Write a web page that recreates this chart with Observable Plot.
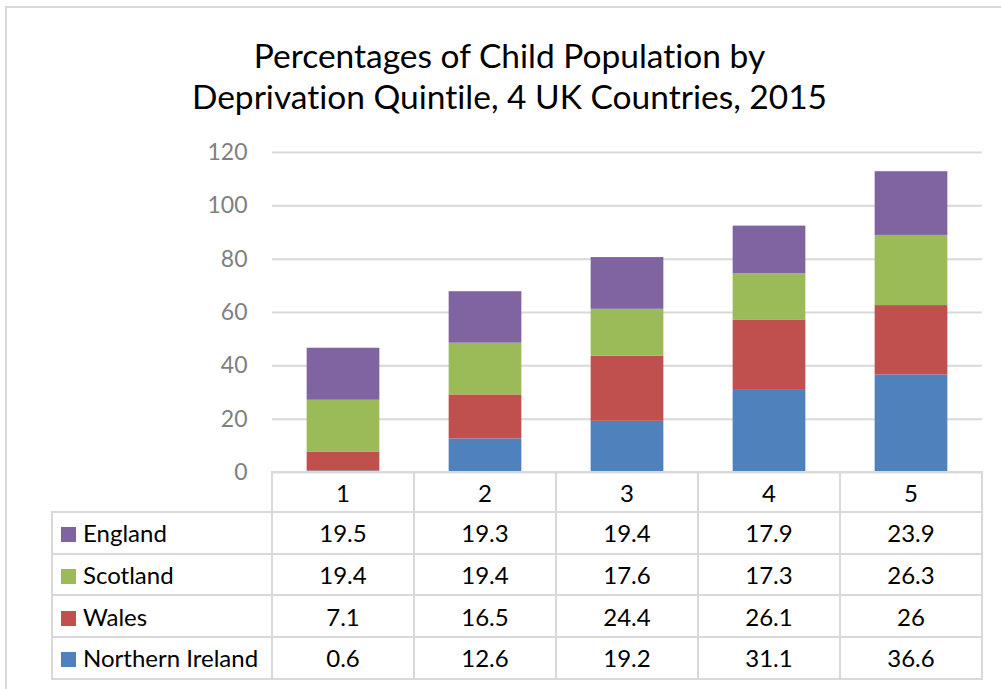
<!DOCTYPE html>
<html>
<head>
<meta charset="utf-8">
<script src="https://cdn.jsdelivr.net/npm/d3@7"></script>
<script src="https://cdn.jsdelivr.net/npm/@observablehq/plot@0.6"></script>
<style>
  html, body { margin: 0; padding: 0; background: #fff; }
  #root { position: relative; width: 1001px; height: 689px; overflow: hidden; background: #fff; font-family: Lato, "Open Sans", sans-serif; font-variant-ligatures: none; }
  .frameTop { position: absolute; left: 6px; top: 6px; right: 0; height: 2px; background: #d9d9d9; }
  .frameLeft { position: absolute; left: 5px; top: 6px; bottom: 0; width: 2px; background: #d9d9d9; }
  .title { position: absolute; left: 0; width: 1019px; text-align: center; font-size: 33.5px; color: #000; white-space: nowrap; line-height: 1; }
  #chart { position: absolute; left: 0; top: 0; }
  #tbl { position: absolute; border-collapse: collapse; table-layout: fixed; font-size: 24px; color: #000; }
  #tbl td { border: 2px solid #d9d9d9; padding: 0; text-align: center; white-space: nowrap; }
  #tbl td.blank { border: none; }
  #tbl td.lab { text-align: left; padding-left: 8px; }
  .sw { display: inline-block; width: 15px; height: 15px; margin-right: 7px; vertical-align: 0px; }
</style>
</head>
<body>
<div id="root">
  <div class="frameTop"></div>
  <div class="frameLeft"></div>
  <div class="title" id="t1" style="top:39px">Percentages of Child Population by</div>
  <div class="title" id="t2" style="top:80px">Deprivation Quintile, 4 UK Countries, 2015</div>
  <div id="chart"></div>
  <table id="tbl"></table>
</div>
<script>
const quintiles = ["1", "2", "3", "4", "5"];
const countries = ["England", "Scotland", "Wales", "Northern Ireland"];
const colors = ["#8064A2", "#9BBB59", "#C0504D", "#4F81BD"];
const england = [19.5, 19.3, 19.4, 17.9, 23.9];
const scotland = [19.4, 19.4, 17.6, 17.3, 26.3];
const wales = [7.1, 16.5, 24.4, 26.1, 26];
const northernIreland = [0.6, 12.6, 19.2, 31.1, 36.6];
const yTicks = [0, 20, 40, 60, 80, 100, 120];

const seriesValues = {
  "England": england,
  "Scotland": scotland,
  "Wales": wales,
  "Northern Ireland": northernIreland
};

// stack order: bottom to top
const stackOrder = ["Northern Ireland", "Wales", "Scotland", "England"];
const data = [];
for (const c of stackOrder) {
  quintiles.forEach((q, i) => data.push({quintile: q, country: c, value: seriesValues[c][i]}));
}

const pIn = 0.488, pOut = pIn / 2;
const chart = Plot.plot({
  width: 1001,
  height: 480,
  marginLeft: 272,
  marginRight: 19,
  marginTop: 152,
  marginBottom: 8,
  style: {fontFamily: "Lato, 'Open Sans', sans-serif", background: "transparent", overflow: "visible"},
  x: {domain: quintiles, paddingInner: pIn, paddingOuter: pOut, round: false, axis: null},
  y: {domain: [0, 120], axis: null},
  color: {domain: countries, range: colors},
  marks: [
    Plot.gridY(yTicks, {stroke: "#d9d9d9", strokeOpacity: 1, strokeWidth: 2}),
    Plot.axisY(yTicks, {tickSize: 0, tickPadding: 25, fontSize: 23, color: "#7f7f7f", textStroke: "none", label: null}),
    Plot.barY(data, {x: "quintile", y: "value", fill: "country", order: stackOrder})
  ]
});
document.getElementById("chart").appendChild(chart);

// data table aligned to the x band scale
const xs = chart.scale("x");
const [r0, r1] = xs.range;
const n = quintiles.length;
const step = (r1 - r0) / (n - pIn + 2 * pOut);
const labelLeft = 52;
const tbl = document.getElementById("tbl");
tbl.style.left = (labelLeft - 1) + "px";
tbl.style.top = (472 - 1) + "px";
const colg = document.createElement("colgroup");
const c0 = document.createElement("col");
c0.style.width = (r0 - labelLeft) + "px";
colg.appendChild(c0);
quintiles.forEach(() => { const c = document.createElement("col"); c.style.width = step + "px"; colg.appendChild(c); });
tbl.appendChild(colg);
tbl.style.width = (r0 - labelLeft + step * n) + "px";

const hr = document.createElement("tr");
hr.style.height = "40px";
const blank = document.createElement("td"); blank.className = "blank"; hr.appendChild(blank);
quintiles.forEach(q => { const td = document.createElement("td"); td.textContent = q; hr.appendChild(td); });
tbl.appendChild(hr);

countries.forEach((c, ci) => {
  const tr = document.createElement("tr");
  tr.style.height = "41.7px";
  const lab = document.createElement("td");
  lab.className = "lab";
  const sw = document.createElement("span");
  sw.className = "sw";
  sw.style.background = colors[ci];
  lab.appendChild(sw);
  lab.appendChild(document.createTextNode(c));
  tr.appendChild(lab);
  seriesValues[c].forEach(v => { const td = document.createElement("td"); td.textContent = String(v); tr.appendChild(td); });
  tbl.appendChild(tr);
});
</script>
</body>
</html>
